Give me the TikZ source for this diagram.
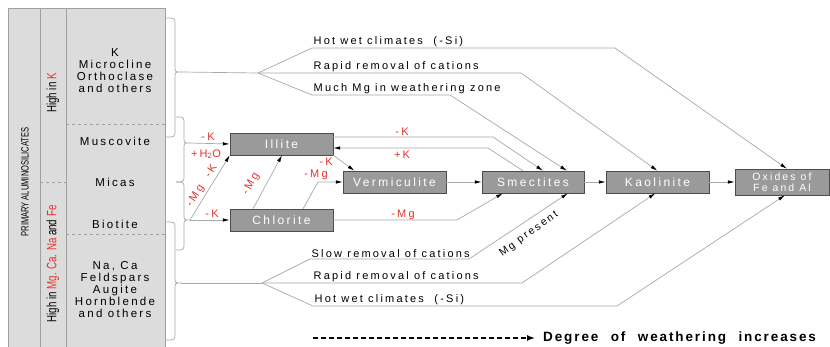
\documentclass[tikz,border=0pt]{standalone}
\usepackage{fontspec}
\setmainfont{Liberation Sans}
\newfontfamily\wide[LetterSpace=20]{Liberation Sans}
\newfontfamily\slim[FakeStretch=0.72]{Liberation Sans}
\newfontfamily\widebold[LetterSpace=14,WordSpace=2.2]{Liberation Sans}
\usetikzlibrary{arrows.meta}

\definecolor{tablegray}{HTML}{DCDCDC}
\definecolor{boxgray}{HTML}{9A9A9A}
\definecolor{wire}{HTML}{A8A8A8}
\definecolor{cationred}{HTML}{E2322B}

% x0, x1, tip x, top y, tip y, bottom y
\newcommand{\sidebrace}[6]{%
  \draw[wire, line width=0.7pt] (#1,#4) .. controls (#2,#4) .. (#2,#4+7) -- (#2,#5-6)
    .. controls (#2,#5) .. (#3,#5) .. controls (#2,#5) .. (#2,#5+6) -- (#2,#6-7)
    .. controls (#2,#6) .. (#1,#6);}

\tikzset{
  mineral/.style={draw=gray!60!black, fill=boxgray, minimum width=103, minimum height=22,
    inner sep=0, text=white, font=\wide\fontsize{12}{12}\selectfont},
  mintext/.style={inner sep=0, font=\wide\fontsize{11.5}{12}\selectfont},
  slimtext/.style={rotate=90, inner sep=0, font=\slim\fontsize{13.5}{14}\selectfont},
  link/.style={draw=wire, line width=0.7pt},
  flow/.style={link, -{Latex[black,length=7pt,width=3.5pt]}},
  cation/.style={text=cationred, inner sep=0, font=\wide\fontsize{11}{12}\selectfont},
  cond/.style={anchor=south west, inner sep=1.5pt, font=\wide\fontsize{11}{12}\selectfont}
}

\begin{document}
\begin{tikzpicture}[x=1pt,y=-1pt]
\useasboundingbox (0,0) rectangle (830,347);

% table of primary minerals
\draw[draw=gray!75, fill=tablegray, line width=0.8pt] (8,8) rectangle (165,352);
\draw[gray!75, line width=0.8pt] (40,8) -- (40,352) (66,8) -- (66,352);
\draw[gray!75, dashed] (66,124) -- (165,124) (66,234) -- (165,234) (40,182) -- (66,182);

\node[slimtext, font=\slim\fontsize{10.5}{12}\selectfont] (primary) at (25,182) {PRIMARY ALUMINOSILICATES};
\node[slimtext] (highk) at (53,93) {High in \textcolor{cationred}{K}};
\node[slimtext] (highmg) at (53,264) {High in \textcolor{cationred}{Mg. Ca. Na} and \textcolor{cationred}{Fe}};
\node[mintext, align=center] (kspar) at (115,71) {K\\Microcline\\Orthoclase\\and others};
\node[mintext] (muscovite) at (115,141) {Muscovite};
\node[mintext] (micas) at (115,182) {Micas};
\node[mintext] (biotite) at (115,224) {Biotite};
\node[mintext, align=center] (naca) at (115,290) {Na, Ca\\Feldspars\\Augite\\Hornblende\\and others};

% braces
\sidebrace{166}{175}{181}{18}{72}{137}
\sidebrace{176}{184}{189}{117}{143}{182}
\sidebrace{176}{184}{190}{182}{220}{250}
\sidebrace{166}{175}{181}{222}{283}{340}
\coordinate (tipA) at (181,72);
\coordinate (tipB) at (189,143);
\coordinate (tipC) at (190,220);
\coordinate (tipD) at (181,283);
\coordinate (upper) at (258,73);
\coordinate (lower) at (262,283);

% clay minerals
\node[mineral] (illite) at (281.5,144) {Illite};
\node[mineral] (chlorite) at (281.5,220) {Chlorite};
\node[mineral] (vermiculite) at (394.5,182) {Vermiculite};
\node[mineral, minimum width=102] (smectites) at (533,182) {Smectites};
\node[mineral] (kaolinite) at (657.5,182) {Kaolinite};
\node[mineral, minimum width=94, minimum height=26, align=center,
  font=\wide\fontsize{10.5}{11}\selectfont] (oxides) at (782,182) {Oxides of\\Fe and Al};

% weathering conditions
\node[cond] (hotwet1) at (312,48) {Hot wet climates\ \ (-Si)};
\node[cond] (rapid1) at (312,73) {Rapid removal of cations};
\node[cond] (muchmg) at (312,95) {Much Mg in weathering zone};
\node[cond] (slow) at (310,259) {Slow removal of cations};
\node[cond] (rapid2) at (312,283) {Rapid removal of cations};
\node[cond] (hotwet2) at (313,306) {Hot wet climates\ \ (-Si)};
\node[inner sep=0, rotate=36, font=\wide\fontsize{10.5}{12}\selectfont] (mgpresent) at (529,234) {Mg present};

\draw[link] (tipA) -- (upper);
\draw[link] (tipD) -- (lower);
\draw[flow] (upper) -- (hotwet1.south west) -- (615,48) -- ([xshift=5]oxides.north);
\draw[flow] (upper) -- (521,73) -- (kaolinite.north);
\draw[flow] (upper) -- (muchmg.south west) -- (450,95) -- ([xshift=34]smectites.north);
\draw[flow] (lower) -- (slow.south west) -- (469,259) -- ([xshift=35]smectites.south);
\draw[flow] (lower) -- (522,283) -- ([xshift=-2]kaolinite.south);
\draw[flow] (lower) -- (hotwet2.south west) -- (617,306) -- ([xshift=3]oxides.south);

% cation exchange
\draw[flow] (tipB) -- (illite.west);
\draw[flow] (tipC) -- (chlorite.west);
\draw[flow] (tipC) -- (illite.south west);
\draw[flow] ([xshift=-28.5]chlorite.north) -- ([xshift=0.5]illite.south);
\draw[flow] (illite.south east) -- ([xshift=-40]vermiculite.north);
\draw[flow] ([xshift=21.5]chlorite.north) -- (318,182) -- (vermiculite.west);
\draw[flow] (illite.east |- 0,137) -- (493,137) -- ([xshift=10]smectites.north);
\draw[flow] ([xshift=-10]smectites.north) -- (488,148) -- (illite.east |- 0,148);
\draw[flow] (chlorite.east) -- (457,220) -- ([xshift=-30]smectites.south);
\draw[flow] (vermiculite) -- (smectites);
\draw[flow] (smectites) -- (kaolinite);
\draw[flow] (kaolinite) -- (oxides);

\node[cation] (kill) at (208,137) {-K};
\node[cation] (water) at (206,154) {+H\textsubscript{2}O};
\node[cation, rotate=57] (mgk) at (202,186) {-Mg\ \ -K};
\node[cation] (kchl) at (212,214) {-K};
\node[cation, rotate=61] (mgchl) at (251,184) {-Mg};
\node[cation] (kverm) at (326,162) {-K};
\node[cation] (mgverm) at (316,175) {-Mg};
\node[cation] (ksmec) at (402,132) {-K};
\node[cation] (kback) at (402,155) {+K};
\node[cation] (mgsmec) at (403,215) {-Mg};

% weathering scale
\node[anchor=west, inner sep=0, font=\widebold\bfseries\fontsize{13.5}{15}\selectfont] (degree) at (543,338) {Degree of weathering increases};
\draw[line width=1.5pt, dash pattern=on 5pt off 3pt, -{Latex[length=8pt,width=6pt]}] (313,338) -- ([xshift=-8]degree.west);
\end{tikzpicture}
\end{document}
